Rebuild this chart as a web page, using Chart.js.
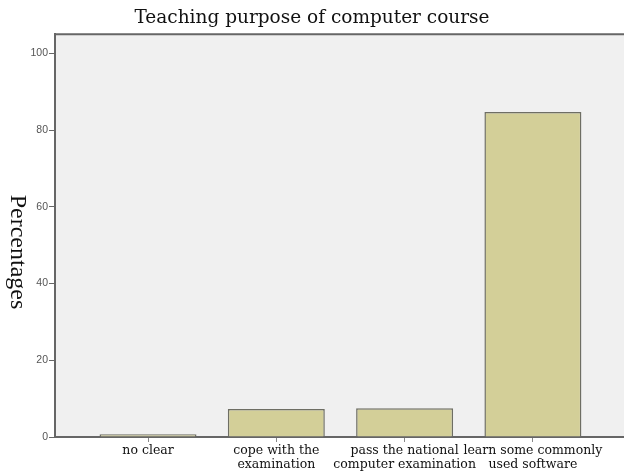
<!DOCTYPE html>
<html>
<head>
<meta charset="utf-8">
<script src="https://cdn.jsdelivr.net/npm/chart.js@4/dist/chart.umd.min.js"></script>
<style>
  html, body { margin: 0; padding: 0; background: #fff; }
  #wrap { width: 624px; height: 472px; }
</style>
</head>
<body>
<div id="wrap"><canvas id="chart" width="624" height="472"></canvas></div>
<script>
const categories = [
    ['no clear'],
    ['cope with the', 'examination'],
    ['pass the national', 'computer examination'],
    ['learn some commonly', 'used software']
];
const percentages = [0.7, 7.3, 7.5, 84.7];
const yTicks = [0, 20, 40, 60, 80, 100];
const yAxisTitle = 'Percentages';

// fond gris, bordure haute, et titre vertical (lu de haut en bas)
const plotFrame = {
    id: 'plotFrame',
    beforeDraw(chart) {
        const { ctx, chartArea } = chart;
        ctx.save();
        ctx.fillStyle = '#f0f0f0';
        ctx.fillRect(chartArea.left, chartArea.top, chart.width - chartArea.left, chartArea.bottom - chartArea.top);
        ctx.restore();
    },
    afterDraw(chart) {
        const { ctx, chartArea } = chart;
        ctx.save();
        ctx.strokeStyle = '#666';
        ctx.lineWidth = 2;
        ctx.beginPath();
        ctx.moveTo(chartArea.left, chartArea.top);
        ctx.lineTo(chart.width, chartArea.top);
        ctx.stroke();

        ctx.translate(17, 252);
        ctx.rotate(Math.PI / 2);
        ctx.fillStyle = '#111';
        ctx.font = '24px "Liberation Serif"';
        ctx.textAlign = 'center';
        ctx.textBaseline = 'middle';
        ctx.fillText(yAxisTitle, 0, 0);
        ctx.restore();
    }
};

const points = percentages.map((v, i) => ({ x: i + 1, y: v }));

new Chart(document.getElementById('chart'), {
    type: 'bar',
    data: {
        datasets: [{
            data: points,
            backgroundColor: '#d3cf98',
            borderColor: '#6e6e64',
            borderWidth: 1.5,
            categoryPercentage: 1,
            barPercentage: 0.756
        }]
    },
    options: {
        responsive: false,
        animation: false,
        layout: { padding: 0 },
        plugins: {
            legend: { display: false },
            tooltip: { enabled: false },
            title: {
                display: true,
                text: 'Teaching purpose of computer course',
                color: '#111',
                font: { family: 'DejaVu Serif', size: 18.5, weight: 'normal', lineHeight: 1.2 },
                padding: { top: 7, bottom: 5 }
            }
        },
        scales: {
            x: {
                type: 'linear',
                offset: false,
                min: 0.275,
                max: 4.71,
                afterBuildTicks(scale) {
                    scale.ticks = categories.map((c, i) => ({ value: i + 1 }));
                },
                afterFit(scale) { scale.height = 35; },
                ticks: {
                    autoSkip: false,
                    maxRotation: 0,
                    padding: 2,
                    color: '#111',
                    font: { family: 'DejaVu Serif', size: 12.5, lineHeight: 1.1 },
                    callback: (v) => categories[v - 1]
                },
                grid: { offset: false, drawOnChartArea: false, tickLength: 5, color: '#888' },
                border: { color: '#666', width: 2 }
            },
            y: {
                min: 0,
                max: 105,
                afterBuildTicks(scale) {
                    scale.ticks = yTicks.map(v => ({ value: v }));
                },
                afterFit(scale) { scale.width = 55; },
                ticks: {
                    padding: 1,
                    color: '#555',
                    font: { family: 'Liberation Sans', size: 10.5 }
                },
                grid: { drawOnChartArea: false, tickLength: 6, color: '#666' },
                border: { color: '#666', width: 2 }
            }
        }
    },
    plugins: [plotFrame]
});
</script>
</body>
</html>
